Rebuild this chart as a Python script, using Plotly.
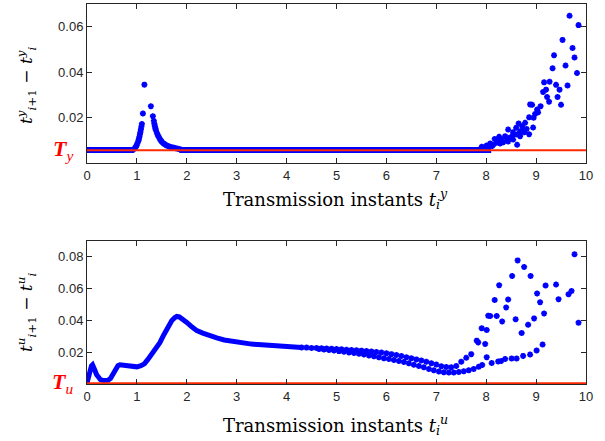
import plotly.graph_objects as go

# ---------------- data: top panel (sensor transmissions) ----------------
Ty = 0.0056
base_y_level = 0.0057
base1_x = [0.0, 0.95]
base2_x = [1.85, 8.1]

peak_x = [0.94, 0.97, 0.99, 1.01, 1.03, 1.04, 1.05, 1.06, 1.07, 1.08, 1.09, 1.10, 1.12, 1.15,
          1.28, 1.32, 1.34, 1.35, 1.36, 1.37, 1.38, 1.40, 1.42, 1.44, 1.46, 1.48, 1.50, 1.53,
          1.56, 1.59, 1.62, 1.66, 1.70, 1.74, 1.78, 1.82, 1.86]
peak_y = [0.0062, 0.0068, 0.0076, 0.0086, 0.0098, 0.0106, 0.0115, 0.0126, 0.0136, 0.0148, 0.0160,
          0.0172, 0.0218, 0.0345, 0.0250, 0.0206, 0.0185, 0.0172, 0.0162, 0.0153, 0.0145, 0.0133,
          0.0122, 0.0114, 0.0106, 0.0099, 0.0093, 0.0087, 0.0082, 0.0078, 0.0075, 0.0071, 0.0069,
          0.0067, 0.0065, 0.0063, 0.0061]

tail_x = [7.91, 7.96, 8.01, 8.05, 8.08, 8.12, 8.14, 8.17, 8.21, 8.24, 8.26, 8.28, 8.30, 8.34,
          8.38, 8.41, 8.44, 8.44, 8.48, 8.54, 8.54, 8.54, 8.60, 8.62, 8.62, 8.65, 8.68, 8.68,
          8.72, 8.74, 8.76, 8.78, 8.81, 8.86, 8.86, 8.88, 8.92, 8.94, 8.95, 8.98, 9.02, 9.04,
          9.09, 9.14, 9.16, 9.20, 9.22, 9.26, 9.27, 9.33, 9.36, 9.40, 9.43, 9.47, 9.50, 9.53,
          9.59, 9.63, 9.67, 9.73, 9.77, 9.82, 9.85]
tail_y = [0.0071, 0.0068, 0.0077, 0.0072, 0.0086, 0.0075, 0.0080, 0.0106, 0.0089, 0.0095, 0.0115,
          0.0086, 0.0103, 0.0091, 0.0118, 0.0100, 0.0147, 0.0095, 0.0112, 0.0135, 0.0103, 0.0125,
          0.0155, 0.0125, 0.0080, 0.0174, 0.0140, 0.0118, 0.0162, 0.0143, 0.0135, 0.0177, 0.0150,
          0.0201, 0.0127, 0.0258, 0.0256, 0.0156, 0.0199, 0.0216, 0.0235, 0.0223, 0.0250, 0.0313,
          0.0355, 0.0323, 0.0291, 0.0270, 0.0358, 0.0417, 0.0474, 0.0344, 0.0291, 0.0323, 0.0256,
          0.0542, 0.0429, 0.0341, 0.0648, 0.0506, 0.0464, 0.0396, 0.0607]

# ---------------- data: bottom panel (controller transmissions) ----------------
Tu = 0.0005

curve_x = [0.00, 0.03, 0.06, 0.09, 0.11, 0.13, 0.16, 0.19, 0.23, 0.27, 0.32, 0.37, 0.42, 0.47,
           0.52, 0.57, 0.62, 0.66, 0.72, 0.80, 0.90, 1.00, 1.08, 1.15, 1.22, 1.30, 1.38, 1.46,
           1.54, 1.62, 1.70, 1.76, 1.80, 1.85, 1.92, 2.00, 2.10, 2.20, 2.32, 2.45, 2.60, 2.75,
           2.90, 3.10, 3.30, 3.50, 3.70, 3.90, 4.10, 4.30]
curve_y = [0.0006, 0.0045, 0.0090, 0.0115, 0.0121, 0.0110, 0.0085, 0.0060, 0.0038, 0.0027, 0.0022,
           0.0020, 0.0024, 0.0035, 0.0060, 0.0095, 0.0115, 0.0121, 0.0118, 0.0111, 0.0106, 0.0108,
           0.0115, 0.0127, 0.0155, 0.0188, 0.0222, 0.0260, 0.0310, 0.0360, 0.0400, 0.0418, 0.0425,
           0.0422, 0.0408, 0.0388, 0.0360, 0.0336, 0.0320, 0.0303, 0.0290, 0.0277, 0.0268, 0.0258,
           0.0251, 0.0247, 0.0242, 0.0237, 0.0233, 0.0230]

upper_x = [4.3, 4.4, 4.5, 4.6, 4.7, 4.8, 4.9, 5.0, 5.1, 5.2, 5.3, 5.4, 5.5, 5.6, 5.7, 5.8, 5.9,
           6.0, 6.1, 6.2, 6.3, 6.4, 6.5, 6.6, 6.7, 6.8, 6.9, 7.0, 7.1, 7.2, 7.3, 7.4, 7.5, 7.6, 7.7]
upper_y = [0.0230, 0.0229, 0.0227, 0.0226, 0.0225, 0.0223, 0.0222, 0.0220, 0.0218, 0.0216, 0.0214,
           0.0212, 0.0210, 0.0208, 0.0205, 0.0201, 0.0198, 0.0194, 0.0188, 0.0182, 0.0176, 0.0169,
           0.0162, 0.0155, 0.0148, 0.0140, 0.0131, 0.0122, 0.0112, 0.0107, 0.0106, 0.0113, 0.0140,
           0.0165, 0.0188]

lower_x = [4.65, 4.75, 4.85, 4.95, 5.05, 5.15, 5.25, 5.35, 5.45, 5.55, 5.65, 5.75, 5.85, 5.95,
           6.05, 6.15, 6.25, 6.35, 6.45, 6.55, 6.65, 6.75, 6.85, 6.95, 7.05, 7.15, 7.25, 7.35,
           7.45, 7.55, 7.65, 7.75, 7.85]
lower_y = [0.0220, 0.0217, 0.0214, 0.0211, 0.0207, 0.0203, 0.0199, 0.0195, 0.0190, 0.0185, 0.0180,
           0.0174, 0.0168, 0.0162, 0.0157, 0.0151, 0.0145, 0.0139, 0.0130, 0.0121, 0.0113, 0.0105,
           0.0095, 0.0086, 0.0079, 0.0074, 0.0072, 0.0072, 0.0075, 0.0080, 0.0086, 0.0095, 0.0108]

scatter_x = [7.81, 7.84, 7.91, 7.98, 8.01, 8.04, 8.08, 8.17, 8.21, 8.26, 8.32, 8.40, 8.44, 8.52,
             8.59, 8.63, 8.71, 8.76, 8.84, 8.89, 8.96, 9.02, 9.08, 9.16, 9.19, 9.40, 9.45, 9.65,
             9.71, 9.77, 9.85,
             7.92, 8.01, 8.11, 8.24, 8.30, 8.38, 8.51, 8.61, 8.74, 8.88, 9.01, 9.13]
scatter_y = [0.0273, 0.0262, 0.0351, 0.0252, 0.0340, 0.0430, 0.0428, 0.0528, 0.0428, 0.0622, 0.0394,
             0.0482, 0.0532, 0.0680, 0.0407, 0.0778, 0.0321, 0.0737, 0.0373, 0.0680, 0.0413, 0.0570,
             0.0515, 0.0444, 0.0620, 0.0626, 0.0534, 0.0565, 0.0586, 0.0816, 0.0386,
             0.0120, 0.0169, 0.0132, 0.0142, 0.0145, 0.0158, 0.0160, 0.0160, 0.0177, 0.0185, 0.0211,
             0.0248]

x_ticks = [0, 1, 2, 3, 4, 5, 6, 7, 8, 9, 10]
top_y_ticks = [0.02, 0.04, 0.06]
bot_y_ticks = [0.02, 0.04, 0.06, 0.08]

BLUE = "#0000ff"
RED = "#ff2a00"
AX = "#262626"
mk = dict(symbol="asterisk-open", size=5, color=BLUE, line=dict(color=BLUE, width=1.8))

fig = go.Figure()

# top panel
for bx in (base1_x, base2_x):
    fig.add_trace(go.Scatter(x=bx, y=[base_y_level] * len(bx), mode="lines",
                             line=dict(color=BLUE, width=6), xaxis="x", yaxis="y",
                             showlegend=False, hoverinfo="skip"))
fig.add_trace(go.Scatter(x=peak_x, y=peak_y, mode="markers", marker=mk,
                         xaxis="x", yaxis="y", showlegend=False))
fig.add_trace(go.Scatter(x=tail_x, y=tail_y, mode="markers", marker=mk,
                         xaxis="x", yaxis="y", showlegend=False))
fig.add_trace(go.Scatter(x=[0, 10], y=[Ty, Ty], mode="lines",
                         line=dict(color=RED, width=1.8), xaxis="x", yaxis="y",
                         showlegend=False))

# bottom panel
fig.add_trace(go.Scatter(x=curve_x, y=curve_y, mode="lines",
                         line=dict(color=BLUE, width=5), xaxis="x2", yaxis="y2",
                         showlegend=False))
fig.add_trace(go.Scatter(x=upper_x, y=upper_y, mode="markers", marker=mk,
                         xaxis="x2", yaxis="y2", showlegend=False))
fig.add_trace(go.Scatter(x=lower_x, y=lower_y, mode="markers", marker=mk,
                         xaxis="x2", yaxis="y2", showlegend=False))
fig.add_trace(go.Scatter(x=scatter_x, y=scatter_y, mode="markers", marker=mk,
                         xaxis="x2", yaxis="y2", showlegend=False))
fig.add_trace(go.Scatter(x=[0, 10], y=[Tu, Tu], mode="lines",
                         line=dict(color=RED, width=1.8), xaxis="x2", yaxis="y2",
                         showlegend=False))

tickfont = dict(family="Liberation Sans, Arial, sans-serif", size=13, color=AX)
axcommon = dict(showline=True, linecolor=AX, linewidth=1, mirror="allticks",
                ticks="inside", ticklen=5, tickcolor=AX, showgrid=False, zeroline=False,
                tickfont=tickfont)

fig.update_layout(
    width=605, height=441,
    margin=dict(l=87, r=19, t=4, b=57),
    paper_bgcolor="white", plot_bgcolor="white",
    xaxis=dict(domain=[0, 1], range=[0, 10], tickvals=x_ticks, anchor="y", **axcommon),
    yaxis=dict(domain=[0.5816, 1], range=[0, 0.07], tickvals=top_y_ticks, anchor="x",
               tickformat=".2f", **axcommon),
    xaxis2=dict(domain=[0, 1], range=[0, 10], tickvals=x_ticks, anchor="y2", **axcommon),
    yaxis2=dict(domain=[0, 0.3763], range=[0, 0.09], tickvals=bot_y_ticks, anchor="x2",
                tickformat=".2f", **axcommon),
)

xtitlefont = dict(family="DejaVu Serif, serif", size=18, color="#000000")
ytitlefont = dict(family="DejaVu Serif, serif", size=17, color="#000000")
titles = [
    ("Transmission instants <i>t</i><sub><i>i</i></sub><sup><i>y</i></sup>", 0.497, 0.487, 0, xtitlefont),
    ("Transmission instants <i>t</i><sub><i>i</i></sub><sup><i>u</i></sup>", 0.497, -0.108, 0, xtitlefont),
    ("<i>t</i><sup><i>y</i></sup><sub><i>i</i>+1</sub> − <i>t</i><sup><i>y</i></sup><sub><i>i</i></sub>",
     -0.120, 0.787, -90, ytitlefont),
    ("<i>t</i><sup><i>u</i></sup><sub><i>i</i>+1</sub> − <i>t</i><sup><i>u</i></sup><sub><i>i</i></sub>",
     -0.120, 0.187, -90, ytitlefont),
]
for txt, px, py, ang, fnt in titles:
    fig.add_annotation(text=txt, xref="paper", yref="paper", x=px, y=py,
                       xanchor="center", yanchor="middle", textangle=ang,
                       showarrow=False, font=fnt)

lab_font = dict(family="Liberation Serif, Times New Roman, serif", size=22, color="#ff0000")
fig.add_annotation(text="<b><i>T</i></b><sub><i>y</i></sub>", xref="paper", yref="y",
                   x=0, y=Ty, xanchor="right", yanchor="middle", xshift=-12,
                   showarrow=False, font=lab_font)
fig.add_annotation(text="<b><i>T</i></b><sub><i>u</i></sub>", xref="paper", yref="y2",
                   x=0, y=Tu, xanchor="right", yanchor="middle", xshift=-12,
                   showarrow=False, font=lab_font)

fig.write_html("out.html", config={"displayModeBar": False},
               post_script="document.body.style.margin='0px';")
